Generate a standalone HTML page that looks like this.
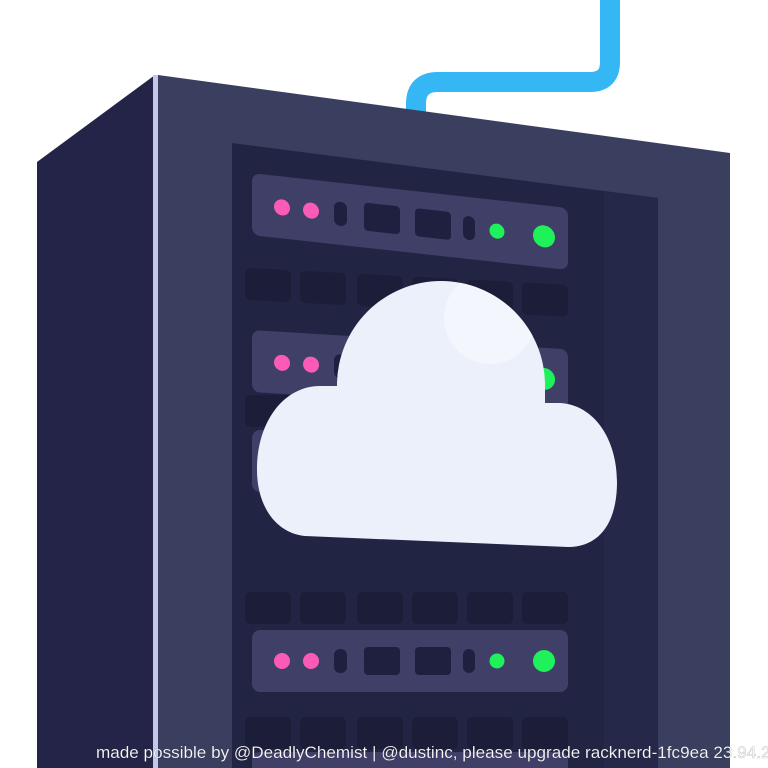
<!DOCTYPE html>
<html><head><meta charset="utf-8"><style>
html,body{margin:0;padding:0;background:#fff;width:768px;height:768px;overflow:hidden;}
svg{display:block;}
</style></head><body>
<svg width="768" height="768" viewBox="0 0 768 768" xmlns="http://www.w3.org/2000/svg">
<rect width="768" height="768" fill="#fff"/>
<path d="M610,0 L610,62 Q610,82 590,82 L438,82 Q416,82 416,104 L416,120" fill="none" stroke="#35b6f5" stroke-width="20"/>
<polygon points="37,162 155,75 155,768 37,768" fill="#232447"/>
<polygon points="158,75 730,153 730,768 158,768" fill="#3a3f60"/>
<rect x="153" y="75" width="5" height="693" fill="#c3c7ec"/>
<polygon points="232,143 658,198 658,768 232,768" fill="#222443"/>
<polygon points="604,192 658,198 658,768 604,768" fill="#262849"/>
<g fill="#1c1d38">
<g transform="translate(0,268) skewY(3) translate(0,-13)">
<rect x="245" y="0" width="46" height="32" rx="5"/><rect x="300" y="0" width="46" height="32" rx="5"/><rect x="357" y="0" width="46" height="32" rx="5"/><rect x="412" y="0" width="46" height="32" rx="5"/><rect x="467" y="0" width="46" height="32" rx="5"/><rect x="522" y="0" width="46" height="32" rx="5"/>
</g>
<g transform="translate(0,395)">
<rect x="245" y="0" width="46" height="32" rx="5"/><rect x="522" y="0" width="46" height="32" rx="5"/>
</g>
<g transform="translate(0,592)">
<rect x="245" y="0" width="46" height="32" rx="5"/><rect x="300" y="0" width="46" height="32" rx="5"/><rect x="357" y="0" width="46" height="32" rx="5"/><rect x="412" y="0" width="46" height="32" rx="5"/><rect x="467" y="0" width="46" height="32" rx="5"/><rect x="522" y="0" width="46" height="32" rx="5"/>
</g>
<g transform="translate(0,717)">
<rect x="245" y="0" width="46" height="32" rx="5"/><rect x="300" y="0" width="46" height="32" rx="5"/><rect x="357" y="0" width="46" height="32" rx="5"/><rect x="412" y="0" width="46" height="32" rx="5"/><rect x="467" y="0" width="46" height="32" rx="5"/><rect x="522" y="0" width="46" height="32" rx="5"/>
</g>
</g>
<defs>
<g id="unit">
<rect x="252" y="0" width="316" height="62" rx="8" fill="#403f68"/>
<circle cx="282" cy="31" r="8" fill="#fb5bb6"/>
<circle cx="311" cy="31" r="8" fill="#fb5bb6"/>
<rect x="334" y="19" width="13" height="24" rx="6" fill="#1f2040"/>
<rect x="364" y="17" width="36" height="28" rx="4" fill="#1f2040"/>
<rect x="415" y="17" width="36" height="28" rx="4" fill="#1f2040"/>
<rect x="463" y="19" width="12" height="24" rx="6" fill="#1f2040"/>
<circle cx="497" cy="31" r="7.5" fill="#1ff15b"/>
<circle cx="544" cy="31" r="11" fill="#1ff15b"/>
</g>
<clipPath id="cc"><path d="M337,385 A104,104 0 0 1 545,385 L545,420 L337,420 Z"/></clipPath>
</defs>
<g transform="translate(0,173) skewY(6.3) translate(0,-27.7)"><use href="#unit"/></g>
<g transform="translate(0,330) skewY(3.5) translate(0,-15.4)"><use href="#unit"/></g>
<g transform="translate(0,430)"><use href="#unit"/></g>
<use href="#unit" y="630"/>
<use href="#unit" y="752"/>
<path d="M305,536 C275,533 257,505 257,470 C257,420 285,386 320,386 L337,386 L337,385 A104,104 0 0 1 545,385 L545,403 L560,403 C595,405 617,440 617,482 C617,522 600,547 568,547 Z" fill="#ebf0fa"/>
<circle cx="490" cy="318" r="46" fill="#f4f6fc" opacity="0.9" clip-path="url(#cc)"/>
<text x="96" y="758" font-family="Liberation Sans, sans-serif" font-size="17" fill="#fff" stroke="#000" stroke-opacity="0.25" stroke-width="0.5" textLength="684" lengthAdjust="spacingAndGlyphs">made possible by @DeadlyChemist | @dustinc, please upgrade racknerd-1fc9ea 23.94.21</text>
</svg>
</body></html>
